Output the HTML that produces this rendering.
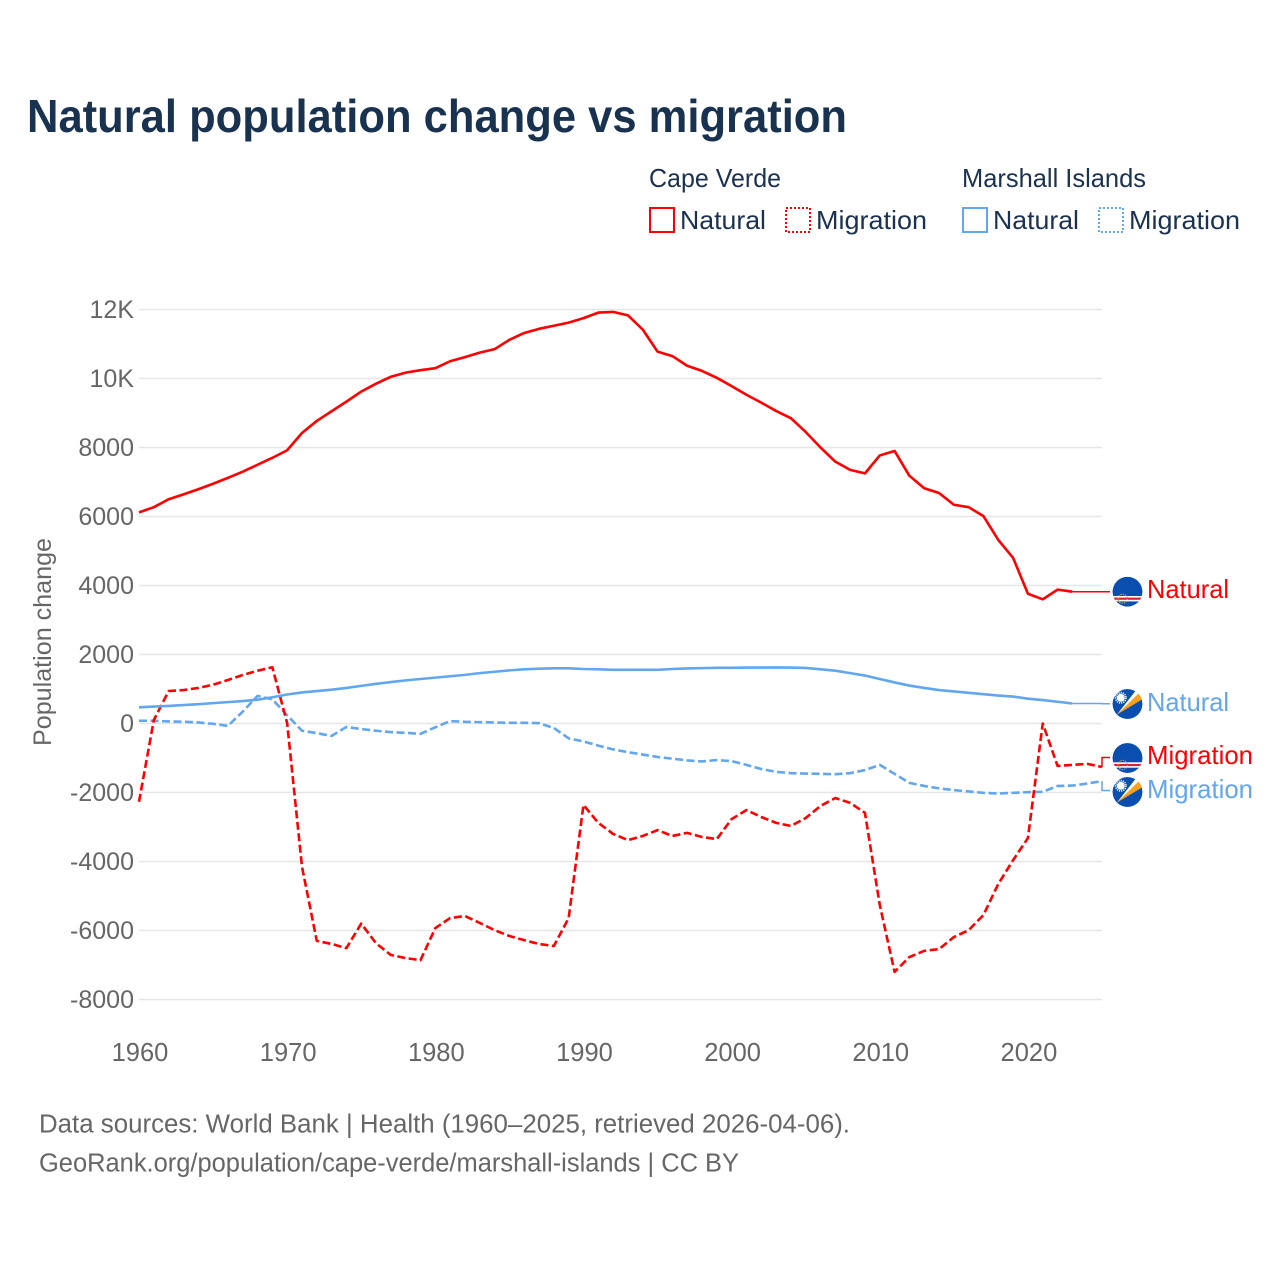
<!DOCTYPE html>
<html lang="en">
<head>
<meta charset="utf-8">
<title>Natural population change vs migration</title>
<style>
html,body{margin:0;padding:0;background:#fff;width:1280px;height:1280px;overflow:hidden}
svg{display:block;font-family:"Liberation Sans",sans-serif}
</style>
</head>
<body>
<svg id="chart" xmlns="http://www.w3.org/2000/svg" width="1280" height="1280" viewBox="0 0 1280 1280">
  <defs>
    <clipPath id="flag-clip-a"><circle cx="1127.5" cy="591.7" r="15"/></clipPath>
    <clipPath id="flag-clip-b"><circle cx="1127.5" cy="704" r="15"/></clipPath>
    <clipPath id="flag-clip-c"><circle cx="1127.5" cy="758" r="15"/></clipPath>
    <clipPath id="flag-clip-d"><circle cx="1127.5" cy="792" r="15"/></clipPath>
  </defs>
  <rect width="1280" height="1280" fill="#fff"/>
  <text x="27" y="132" font-size="46" font-weight="700" fill="#18324f" textLength="820" lengthAdjust="spacingAndGlyphs">Natural population change vs migration</text>

  <g id="legend" font-size="26" fill="#1a3150">
    <text x="649" y="187" textLength="132" lengthAdjust="spacingAndGlyphs">Cape Verde</text>
    <text x="962" y="187" textLength="184" lengthAdjust="spacingAndGlyphs">Marshall Islands</text>
    <rect x="650" y="208" width="24" height="24" fill="none" stroke="#ff0000" stroke-width="2"/>
    <text x="680" y="229" textLength="86" lengthAdjust="spacingAndGlyphs">Natural</text>
    <rect x="786" y="208" width="24" height="24" fill="none" stroke="#ff0000" stroke-width="2" stroke-dasharray="2,2"/>
    <text x="816" y="229" textLength="111" lengthAdjust="spacingAndGlyphs">Migration</text>
    <rect x="963" y="208" width="24" height="24" fill="none" stroke="#62a6ee" stroke-width="2"/>
    <text x="993" y="229" textLength="86" lengthAdjust="spacingAndGlyphs">Natural</text>
    <rect x="1099" y="208" width="24" height="24" fill="none" stroke="#62a6ee" stroke-width="2" stroke-dasharray="2,2"/>
    <text x="1129" y="229" textLength="111" lengthAdjust="spacingAndGlyphs">Migration</text>
  </g>

  <g id="grid"></g>
  <g id="ytick-labels" font-size="25" fill="#666666" text-anchor="end"></g>
  <g id="xtick-labels" font-size="25.5" fill="#666666" text-anchor="middle"></g>
  <text transform="translate(51,642) rotate(-90)" font-size="25" fill="#666666" text-anchor="middle" textLength="208" lengthAdjust="spacingAndGlyphs">Population change</text>
  <g id="series"></g>

  <g clip-path="url(#flag-clip-a)">
    <circle cx="1127.5" cy="591.7" r="15" fill="#0a4fb0"/>
    <rect x="1112" y="596" width="31" height="5.4" fill="#fff"/>
    <rect x="1112" y="597.6" width="31" height="2.2" fill="#d8203a"/>
    <circle cx="1122.7" cy="598.7" r="4.6" fill="none" stroke="#e0a840" stroke-width="1.2" stroke-dasharray="1.2,1.2"/>
  </g>
  <g clip-path="url(#flag-clip-c)">
    <circle cx="1127.5" cy="758" r="15" fill="#0a4fb0"/>
    <rect x="1112" y="762.3" width="31" height="5.4" fill="#fff"/>
    <rect x="1112" y="763.9" width="31" height="2.2" fill="#d8203a"/>
    <circle cx="1122.7" cy="765" r="4.6" fill="none" stroke="#e0a840" stroke-width="1.2" stroke-dasharray="1.2,1.2"/>
  </g>
  <g clip-path="url(#flag-clip-b)">
    <circle cx="1127.5" cy="704" r="15" fill="#0a4fb0"/>
    <polygon points="1117,714.5 1137,689 1141.5,695" fill="#fff"/>
    <polygon points="1117,714.5 1139.5,692.5 1143,699" fill="#f9a01e"/>
    <circle cx="1120.8" cy="697.8" r="4" fill="#fff"/>
    <circle cx="1120.8" cy="697.8" r="5.2" fill="none" stroke="#fff" stroke-width="1.6" stroke-dasharray="1.2,1"/>
  </g>
  <g clip-path="url(#flag-clip-d)">
    <circle cx="1127.5" cy="792" r="15" fill="#0a4fb0"/>
    <polygon points="1117,802.5 1137,777 1141.5,783" fill="#fff"/>
    <polygon points="1117,802.5 1139.5,780.5 1143,787" fill="#f9a01e"/>
    <circle cx="1120.8" cy="785.8" r="4" fill="#fff"/>
    <circle cx="1120.8" cy="785.8" r="5.2" fill="none" stroke="#fff" stroke-width="1.6" stroke-dasharray="1.2,1"/>
  </g>

  <g font-size="26">
    <text x="1147" y="598" fill="#ff0000" textLength="82" lengthAdjust="spacingAndGlyphs">Natural</text>
    <text x="1147" y="711" fill="#62a6ee" textLength="82" lengthAdjust="spacingAndGlyphs">Natural</text>
    <text x="1147" y="764" fill="#ff0000" textLength="106" lengthAdjust="spacingAndGlyphs">Migration</text>
    <text x="1147" y="798" fill="#62a6ee" textLength="106" lengthAdjust="spacingAndGlyphs">Migration</text>
  </g>

  <g font-size="25.5" fill="#666666">
    <text x="39" y="1132.5" textLength="811" lengthAdjust="spacingAndGlyphs">Data sources: World Bank | Health (1960–2025, retrieved 2026-04-06).</text>
    <text x="39" y="1171.5" textLength="700" lengthAdjust="spacingAndGlyphs">GeoRank.org/population/cape-verde/marshall-islands | CC BY</text>
  </g>
</svg>
<script>
const startYear = 1960;
const yTickValues = [12000, 10000, 8000, 6000, 4000, 2000, 0, -2000, -4000, -6000, -8000];
const yTickLabels = ["12K", "10K", "8000", "6000", "4000", "2000", "0", "-2000", "-4000", "-6000", "-8000"];
const xTickYears = [1960, 1970, 1980, 1990, 2000, 2010, 2020];
const capeVerdeNatural = [6120,6270,6500,6640,6790,6950,7120,7300,7500,7700,7920,8420,8770,9050,9330,9620,9850,10050,10170,10240,10300,10500,10620,10750,10850,11120,11320,11440,11530,11620,11750,11910,11930,11830,11420,10780,10650,10370,10220,10020,9780,9530,9300,9060,8850,8450,8000,7590,7350,7250,7770,7900,7180,6820,6680,6340,6270,6010,5320,4800,3760,3600,3880,3820];
const capeVerdeMigration = [-2270,100,940,970,1030,1125,1260,1405,1530,1630,10,-4150,-6300,-6390,-6510,-5800,-6370,-6710,-6800,-6860,-5930,-5640,-5580,-5780,-5990,-6160,-6280,-6390,-6450,-5640,-2360,-2880,-3200,-3380,-3260,-3090,-3260,-3170,-3290,-3350,-2770,-2510,-2710,-2880,-2970,-2740,-2390,-2160,-2300,-2590,-5260,-7200,-6770,-6590,-6540,-6190,-5990,-5550,-4650,-3960,-3320,0,-1230,-1200,-1170,-1260];
const marshallNatural = [470,490,510,535,560,590,620,650,690,760,840,900,940,980,1030,1090,1150,1200,1250,1290,1330,1370,1410,1460,1500,1540,1570,1590,1600,1600,1580,1570,1555,1555,1555,1555,1580,1595,1605,1615,1615,1620,1620,1625,1620,1610,1570,1530,1460,1390,1290,1190,1100,1030,970,930,890,850,810,780,720,680,630,580];
const marshallMigration = [80,80,60,50,30,-10,-70,344,800,700,240,-210,-280,-360,-100,-160,-210,-250,-270,-300,-110,70,50,40,30,20,20,10,-130,-430,-520,-640,-750,-830,-900,-970,-1020,-1070,-1100,-1060,-1090,-1200,-1320,-1400,-1440,-1450,-1460,-1470,-1440,-1350,-1200,-1460,-1720,-1810,-1880,-1930,-1970,-2010,-2030,-2010,-1990,-1980,-1810,-1800,-1740,-1670];

const NS = "http://www.w3.org/2000/svg";
function xScale(year) { return 139 + (year - 1960) * (963 / 65); }
function yScale(value) { return 723.5 - value * 0.0345; }

const gridGroup = document.getElementById("grid");
const yLabelGroup = document.getElementById("ytick-labels");
const xLabelGroup = document.getElementById("xtick-labels");
const seriesGroup = document.getElementById("series");

yTickValues.forEach(function (v, i) {
  const line = document.createElementNS(NS, "line");
  line.setAttribute("x1", 139);
  line.setAttribute("x2", 1102);
  line.setAttribute("y1", yScale(v));
  line.setAttribute("y2", yScale(v));
  line.setAttribute("stroke", "#e6e6e6");
  line.setAttribute("stroke-width", "1.5");
  
  
  gridGroup.appendChild(line);

  const t = document.createElementNS(NS, "text");
  t.setAttribute("x", 134);
  t.setAttribute("y", yScale(v) + 8.5);
  t.textContent = yTickLabels[i];
  
  
  yLabelGroup.appendChild(t);
});

xTickYears.forEach(function (yr) {
  const t = document.createElementNS(NS, "text");
  t.setAttribute("x", xScale(yr) + 1);
  t.setAttribute("y", 1061);
  t.textContent = String(yr);
  
  
  xLabelGroup.appendChild(t);
});

function drawConnector(values, color, labelY, name) {
  const lastIdx = values.length - 1;
  const ex = xScale(startYear + lastIdx);
  const ey = yScale(values[lastIdx]);
  const midX = Math.max(ex, 1102);
  const p = document.createElementNS(NS, "path");
  p.setAttribute("d", "M" + ex + " " + ey + "L" + midX + " " + ey + "L" + midX + " " + labelY + "L1110 " + labelY);
  p.setAttribute("fill", "none");
  p.setAttribute("stroke", color);
  p.setAttribute("stroke-width", "1.5");
  
  
  seriesGroup.appendChild(p);
}

function drawLine(values, color, dash, name) {
  const d = values.map(function (v, i) {
    return (i ? "L" : "M") + xScale(startYear + i).toFixed(2) + " " + yScale(v).toFixed(2);
  }).join("");
  const p = document.createElementNS(NS, "path");
  p.setAttribute("d", d);
  p.setAttribute("fill", "none");
  p.setAttribute("stroke", color);
  p.setAttribute("stroke-width", "2.6");
  p.setAttribute("stroke-linejoin", "round");
  if (dash) p.setAttribute("stroke-dasharray", dash);
  
  
  seriesGroup.appendChild(p);
}

drawConnector(capeVerdeNatural, "#ff0000", 591.7, "connector-cape-verde-natural");
drawConnector(marshallNatural, "#62a6ee", 703.7, "connector-marshall-natural");
drawConnector(capeVerdeMigration, "#ff0000", 757.5, "connector-cape-verde-migration");
drawConnector(marshallMigration, "#62a6ee", 790.5, "connector-marshall-migration");

drawLine(marshallMigration, "#62a6ee", "8,3.5", "line-marshall-migration");
drawLine(capeVerdeMigration, "#ff0000", "8,3.5", "line-cape-verde-migration");
drawLine(marshallNatural, "#62a6ee", "", "line-marshall-natural");
drawLine(capeVerdeNatural, "#ff0000", "", "line-cape-verde-natural");
</script>
</body>
</html>
